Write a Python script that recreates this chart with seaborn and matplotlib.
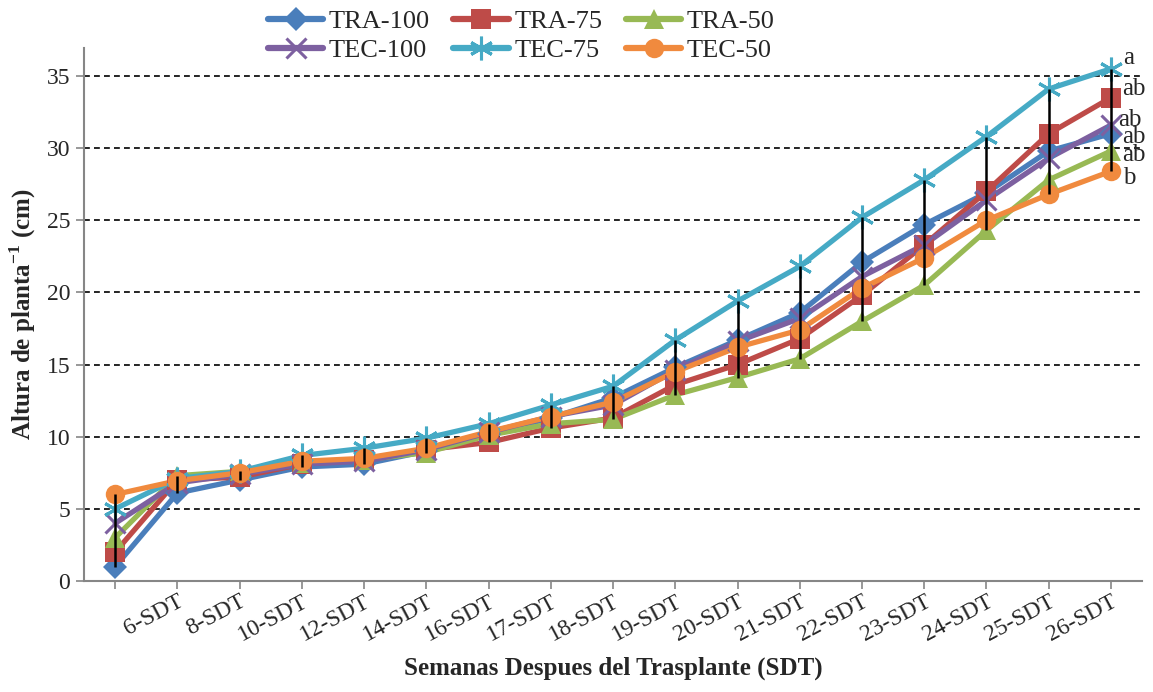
import numpy as np
import pandas as pd
import seaborn as sns
import matplotlib
matplotlib.use('Agg')
import matplotlib.pyplot as plt

# weeks after transplant (first category has no label in the original)
weeks = ['', '6-SDT', '8-SDT', '10-SDT', '12-SDT', '14-SDT', '16-SDT', '17-SDT',
         '18-SDT', '19-SDT', '20-SDT', '21-SDT', '22-SDT', '23-SDT', '24-SDT',
         '25-SDT', '26-SDT']

tra_100 = [1.0, 6.1, 7.0, 7.9, 8.1, 9.0, 10.2, 11.3, 12.7, 14.8, 16.7, 18.6, 22.1, 24.7, 26.9, 29.8, 31.0]
tra_75 = [2.0, 7.0, 7.2, 8.1, 8.4, 9.1, 9.6, 10.6, 11.3, 13.6, 15.0, 16.8, 19.8, 23.3, 27.0, 31.0, 33.5]
tra_50 = [3.0, 7.3, 7.6, 8.2, 8.4, 8.9, 10.1, 10.9, 11.2, 12.9, 14.1, 15.4, 18.0, 20.5, 24.3, 27.8, 29.8]
tec_100 = [4.0, 6.8, 7.4, 8.1, 8.3, 9.1, 10.3, 11.4, 12.2, 14.6, 16.6, 18.2, 21.1, 23.3, 26.4, 29.3, 31.6]
tec_75 = [5.0, 7.1, 7.6, 8.7, 9.2, 9.9, 10.9, 12.2, 13.5, 16.7, 19.4, 21.8, 25.2, 27.8, 30.8, 34.1, 35.5]
tec_50 = [6.0, 6.95, 7.5, 8.3, 8.5, 9.2, 10.35, 11.4, 12.4, 14.5, 16.2, 17.4, 20.3, 22.4, 25.0, 26.8, 28.4]

series_names = ['TRA-100', 'TRA-75', 'TRA-50', 'TEC-100', 'TEC-75', 'TEC-50']
series_values = [tra_100, tra_75, tra_50, tec_100, tec_75, tec_50]

# significance letters at the last week
letters = {'TEC-75': 'a', 'TRA-75': 'ab', 'TEC-100': 'ab', 'TRA-100': 'ab',
           'TRA-50': 'ab', 'TEC-50': 'b'}

colors = ['#4A7EBB', '#BE4B48', '#98B954', '#7D60A0', '#46AAC5', '#F08A3E']
markers = ['D', 's', '^', 'x', (6, 2, 0), 'o']
msizes = [12, 14, 14, 14, 17, 14]


def build_frame():
    rows = []
    for name, vals in zip(series_names, series_values):
        for w, v in zip(weeks, vals):
            rows.append({'Semana': w, 'Altura': v, 'Tratamiento': name})
    return pd.DataFrame(rows)


def edge_width(m):
    return 2.2 if m == 'x' or isinstance(m, tuple) else 0


def main():
    df = build_frame()
    sns.set_style('white')
    plt.rcParams['font.family'] = ['Liberation Serif', 'DejaVu Serif']
    plt.rcParams['mathtext.fontset'] = 'custom'
    plt.rcParams['mathtext.rm'] = 'Liberation Serif'
    plt.rcParams['mathtext.bf'] = 'Liberation Serif:bold'

    fig = plt.figure(figsize=(11.53, 6.92), dpi=100)
    ax = fig.add_axes([0.0729, 0.1604, 0.9176, 0.7702])

    palette = dict(zip(series_names, colors))
    sns.lineplot(data=df, x='Semana', y='Altura', hue='Tratamiento',
                 hue_order=series_names, palette=palette, sort=False,
                 linewidth=3.8, legend=False, ax=ax)
    # markers per series
    for name, vals, c, m, ms in zip(series_names, series_values, colors, markers, msizes):
        ax.plot(weeks, vals, linestyle='none', marker=m, markersize=ms,
                color=c, markeredgecolor=c, markeredgewidth=edge_width(m), zorder=3)

    # black vertical bars spanning the treatments at each week
    rng = df.groupby('Semana', sort=False)['Altura'].agg(['min', 'max'])
    ax.vlines(rng.index, rng['min'], rng['max'], colors='black',
              linewidth=1.8, zorder=5)

    # letters next to the last points
    offsets = {'TEC-75': (9, 8), 'TRA-75': (8, 6), 'TEC-100': (5, 4),
               'TRA-100': (8, -2), 'TRA-50': (8, -3), 'TEC-50': (9, -5)}
    for name, vals in zip(series_names, series_values):
        ax.annotate(letters[name], xy=(weeks[-1], vals[-1]),
                    xytext=offsets[name], textcoords='offset points',
                    ha='left', va='center', fontsize=18, annotation_clip=False)

    ax.set_xlim(-0.5, len(weeks) - 0.5)
    ax.set_ylim(0, 36.94)
    ax.set_yticks(np.arange(0, 36, 5))
    for yv in range(5, 36, 5):
        ax.axhline(yv, color='black', linewidth=1.2, linestyle=(0, (3.5, 2.5)), zorder=1)

    ax.set_xticks(range(len(weeks)))
    ax.set_xticklabels(weeks, rotation=28, ha='right', va='top',
                       rotation_mode='anchor', fontsize=17)
    ax.tick_params(axis='y', labelsize=17, length=6, width=1.2, color='#868686',
                   direction='out', left=True, pad=4)
    ax.tick_params(axis='x', length=6, width=1.2, color='#868686',
                   direction='out', bottom=True, pad=1)

    for side in ['top', 'right']:
        ax.spines[side].set_visible(False)
    for side in ['left', 'bottom']:
        ax.spines[side].set_color('#868686')
        ax.spines[side].set_linewidth(1.5)

    ax.set_xlabel('Semanas Despues del Trasplante (SDT)', fontsize=18,
                  fontweight='bold', labelpad=8)
    ax.set_ylabel(r'Altura de planta$^{\mathbf{-1}}$ (cm)', fontsize=18,
                  fontweight='bold', labelpad=6)

    handles = {}
    for name, c, m, ms in zip(series_names, colors, markers, msizes):
        h, = ax.plot([], [], color=c, linewidth=4.5, marker=m, markersize=ms,
                     markeredgecolor=c, markeredgewidth=edge_width(m), label=name)
        handles[name] = h
    # legend fills columns first, so interleave to get rows TRA / TEC
    order = ['TRA-100', 'TEC-100', 'TRA-75', 'TEC-75', 'TRA-50', 'TEC-50']
    fig.legend(handles=[handles[n] for n in order], labels=order,
               loc='upper center', bbox_to_anchor=(0.452, 1.02), ncol=3,
               frameon=False, fontsize=19, handlelength=2.1, handletextpad=0.2,
               columnspacing=0.9, labelspacing=0.2)

    fig.savefig('out.png', dpi=100)


if __name__ == '__main__':
    main()
